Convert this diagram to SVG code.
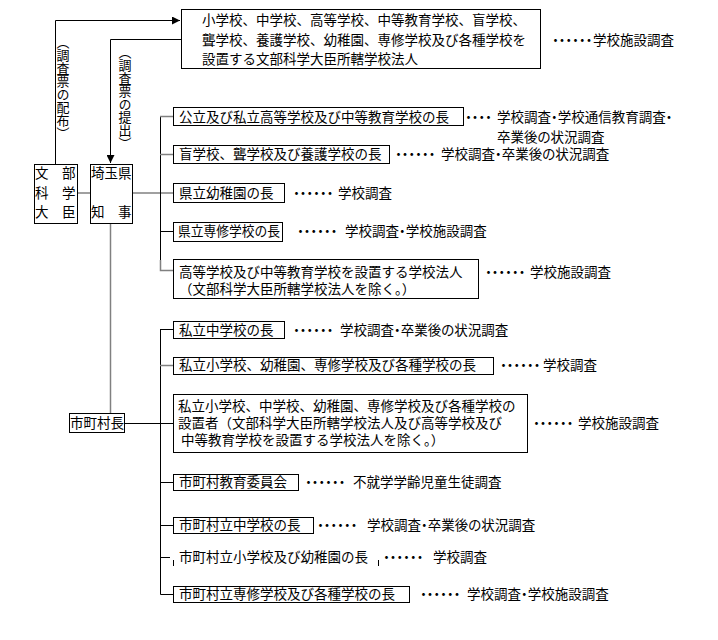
<svg xmlns="http://www.w3.org/2000/svg" width="718" height="640" viewBox="0 0 718 640">
<style>
text{font-family:"Noto Sans CJK JP","Noto Sans CJK SC",sans-serif;font-size:13.5px;fill:#000}
.d{font-feature-settings:"palt"}
.box{fill:#fff;stroke:#000;stroke-width:1}
.ln{fill:none;stroke:#000;stroke-width:1}
.gl{fill:none;stroke:#808080;stroke-width:1.5}
.vt{writing-mode:vertical-rl;font-size:13px}
</style>
<defs>
<marker id="ah" viewBox="0 0 10 10" refX="10" refY="5" markerWidth="8" markerHeight="8" markerUnits="userSpaceOnUse" orient="auto">
<path d="M0,0 L10,5 L0,10 Z" fill="#000"/>
</marker>
</defs>
<rect width="718" height="640" fill="#fff"/>
<g id="connectors">
<path class="ln" d="M55.5,164 V20.5 H180" marker-end="url(#ah)"/>
<path class="ln" d="M181,39.5 H110.5 V163" marker-end="url(#ah)"/>
<path class="gl" d="M77,193 H90"/>
<path class="gl" d="M132,193 H173"/>
<path class="ln" d="M160.5,116 V270"/>
<path class="gl" d="M160,116.5 H173"/>
<path class="gl" d="M160,154.5 H173"/>
<path class="ln" d="M160,231.5 H173"/>
<path class="gl" d="M160.5,260 V270.5 H173"/>
<path class="gl" d="M110.5,223 V413"/>
<path class="ln" d="M124,423.5 H173"/>
<path class="ln" d="M160.5,329.5 V594.5 H173"/>
<path class="ln" d="M160,329.5 H173"/>
<path class="gl" d="M160,365.5 H173"/>
<path class="ln" d="M160,482.5 H173"/>
<path class="ln" d="M160,525.5 H173"/>
<path class="ln" d="M160,557.5 H170"/>
</g>
<g id="label-haifu"><text class="vt" x="63" y="36">（調査票の配布）</text></g>
<g id="label-teishutsu"><text class="vt" x="125" y="46">（調査票の提出）</text></g>
<g id="monbu">
<rect class="box" x="34.5" y="164.5" width="43" height="59"/>
<text x="35" y="178">文</text><text x="62" y="178">部</text>
<text x="35" y="198">科</text><text x="62" y="198">学</text>
<text x="35" y="217">大</text><text x="62" y="217">臣</text>
</g>
<g id="saitama">
<rect class="box" x="90.5" y="164.5" width="42" height="59"/>
<text x="91" y="178">埼玉県</text>
<text x="91" y="217">知</text><text x="118" y="217">事</text>
</g>
<g id="top-box">
<rect class="box" x="181.5" y="9.5" width="359" height="59"/>
<text x="202" y="25">小学校、中学校、高等学校、中等教育学校、盲学校、</text>
<text x="202" y="45">聾学校、養護学校、幼稚園、専修学校及び各種学校を</text>
<text x="202" y="64">設置する文部科学大臣所轄学校法人</text>
<text class="d" y="45"><tspan x="552">・・・・・・</tspan><tspan x="593">学校施設調査</tspan></text>
</g>
<g id="n1">
<rect class="box" x="173.5" y="107.5" width="290" height="18"/>
<text x="179" y="122">公立及び私立高等学校及び中等教育学校の長</text>
<text class="d" y="122"><tspan x="465">・・・・</tspan><tspan x="497">学校調査・学校通信教育調査・</tspan><tspan x="497" y="142">卒業後の状況調査</tspan></text>
</g>
<g id="n2">
<rect class="box" x="173.5" y="145.5" width="216" height="18"/>
<text x="179" y="159">盲学校、聾学校及び養護学校の長</text>
<text class="d" y="159"><tspan x="395">・・・・・・</tspan><tspan x="441">学校調査・卒業後の状況調査</tspan></text>
</g>
<g id="n3">
<rect class="box" x="173.5" y="183.5" width="111" height="19"/>
<text x="179" y="198">県立幼稚園の長</text>
<text class="d" y="198"><tspan x="293">・・・・・・</tspan><tspan x="338">学校調査</tspan></text>
</g>
<g id="n4">
<rect class="box" x="173.5" y="222.5" width="109" height="19"/>
<text x="178" y="236" textLength="102" lengthAdjust="spacingAndGlyphs">県立専修学校の長</text>
<text class="d" y="236"><tspan x="297">・・・・・・</tspan><tspan x="345">学校調査・学校施設調査</tspan></text>
</g>
<g id="n5">
<rect class="box" x="173.5" y="259.5" width="305" height="39"/>
<text x="179" y="277">高等学校及び中等教育学校を設置する学校法人</text>
<text x="179" y="294">（文部科学大臣所轄学校法人を除く。）</text>
<text class="d" y="277"><tspan x="485">・・・・・・</tspan><tspan x="530">学校施設調査</tspan></text>
</g>
<g id="shichoson">
<rect class="box" x="69.5" y="413.5" width="55" height="19"/>
<text x="70" y="428">市町村長</text>
</g>
<g id="m1">
<rect class="box" x="173.5" y="321.5" width="111" height="17"/>
<text x="179" y="335">私立中学校の長</text>
<text class="d" y="335"><tspan x="293">・・・・・・</tspan><tspan x="340">学校調査・卒業後の状況調査</tspan></text>
</g>
<g id="m2">
<rect class="box" x="173.5" y="357.5" width="320" height="17"/>
<text x="179" y="370">私立小学校、幼稚園、専修学校及び各種学校の長</text>
<text class="d" y="370"><tspan x="500">・・・・・・</tspan><tspan x="543">学校調査</tspan></text>
</g>
<g id="m3">
<rect class="box" x="173.5" y="394.5" width="354" height="58"/>
<text x="178" y="411">私立小学校、中学校、幼稚園、専修学校及び各種学校の</text>
<text x="178" y="428">設置者（文部科学大臣所轄学校法人及び高等学校及び</text>
<text x="181" y="445">中等教育学校を設置する学校法人を除く。）</text>
<text class="d" y="428"><tspan x="533">・・・・・・</tspan><tspan x="578">学校施設調査</tspan></text>
</g>
<g id="m4">
<rect class="box" x="173.5" y="474.5" width="125" height="16"/>
<text x="179" y="487">市町村教育委員会</text>
<text class="d" y="487"><tspan x="305">・・・・・・</tspan><tspan x="353">不就学学齢児童生徒調査</tspan></text>
</g>
<g id="m5">
<rect class="box" x="173.5" y="517.5" width="140" height="16"/>
<text x="179" y="530">市町村立中学校の長</text>
<text class="d" y="530"><tspan x="317">・・・・・・</tspan><tspan x="367">学校調査・卒業後の状況調査</tspan></text>
</g>
<g id="m6">
<path class="ln" d="M173.5,560 V566 M378.5,560 V566"/>
<text x="179" y="562">市町村立小学校及び幼稚園の長</text>
<text class="d" y="562"><tspan x="383">・・・・・・</tspan><tspan x="433">学校調査</tspan></text>
</g>
<g id="m7">
<rect class="box" x="173.5" y="586.5" width="236" height="16"/>
<text x="179" y="599">市町村立専修学校及び各種学校の長</text>
<text class="d" y="599"><tspan x="420">・・・・・・</tspan><tspan x="467">学校調査・学校施設調査</tspan></text>
</g>
</svg>
